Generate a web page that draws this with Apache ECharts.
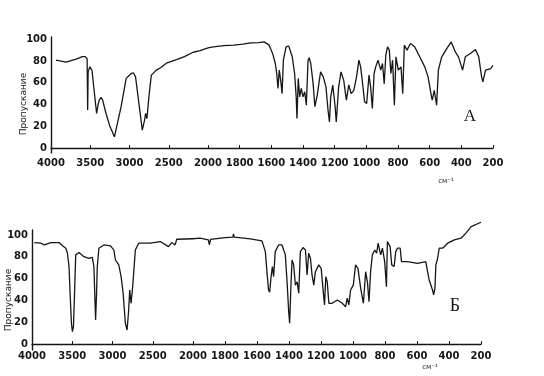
<!DOCTYPE html>
<html>
<head>
<meta charset="utf-8">
<script src="https://cdn.jsdelivr.net/npm/echarts@6/dist/echarts.min.js"></script>
<style>
  html, body { margin: 0; background: #ffffff; }
  #chart { width: 544px; height: 376px; }
</style>
</head>
<body>
<div id="chart"></div>
<script>
// спектр А: волновое число (см-1) и пропускание (%)
const waveA = [3936, 3808, 3680, 3600, 3564, 3540, 3533, 3527, 3504, 3478, 3419, 3400, 3385, 3363, 3342, 3300, 3250, 3192, 3171, 3107,
  3042, 2978, 2949, 2923, 2880, 2837, 2808, 2795, 2778, 2753, 2722, 2658, 2600, 2530, 2401, 2300, 2189, 2100, 2000, 1966,
  1900, 1838, 1780, 1731, 1680, 1646, 1614, 1592, 1575, 1566, 1558, 1550, 1541, 1532, 1524, 1507, 1490, 1468, 1453, 1443,
  1438, 1430, 1421, 1411, 1400, 1389, 1379, 1368, 1361, 1351, 1336, 1325, 1310, 1289, 1272, 1255, 1242, 1233, 1225, 1212,
  1197, 1190, 1175, 1160, 1143, 1126, 1111, 1096, 1079, 1062, 1047, 1036, 1026, 1011, 998, 983, 973, 962, 951, 941,
  926, 909, 898, 887, 877, 866, 855, 845, 834, 823, 813, 798, 781, 770, 760, 743, 721, 695, 663, 631,
  610, 592, 584, 571, 556, 545, 524, 492, 464, 438, 418, 392, 375, 343, 311, 290, 272, 264, 247, 215, 200];
const transA = [80.7, 79, 81.6, 84, 84, 82, 35, 70, 74.6, 71.5, 31.8, 40, 44, 46.5, 44, 32, 20, 10.4, 12, 38,
  64, 68.5, 69, 65.4, 41, 16.5, 25.7, 31.8, 27, 47, 67, 71.6, 74, 78, 81.3, 84, 88, 89.5, 92, 93,
  94, 94.5, 95.5, 96.6, 96.8, 97.5, 94.5, 86.9, 77.7, 68.5, 54.8, 71.6, 62.4, 50, 80.7, 93, 93.6, 83.8, 68.5, 47,
  27.2, 64, 47, 54.8, 47, 51.7, 39.4, 80.7, 83, 77.7, 59, 38, 48.6, 70, 65.4, 56.2, 35, 24, 47, 57.8,
  38, 24, 56, 70, 62.4, 44, 58, 50, 53, 65.4, 80.7, 74.6, 62.4, 42.5, 41, 67, 56.2, 36.4, 68.5, 74.6,
  80.7, 71.6, 77.7, 59, 85.3, 93, 90, 68.5, 80.7, 39.4, 83.8, 71.6, 74.6, 50, 94.5, 90, 96, 93, 83.8, 74.6,
  65.4, 50, 44, 53, 39.4, 71.6, 83.8, 91.4, 97.5, 88.3, 83.8, 71.6, 83.8, 86.9, 90.5, 83.8, 65.4, 60.8, 71.6, 73, 76];

// спектр Б
const waveB = [3971, 3889, 3848, 3765, 3663, 3621, 3580, 3560, 3540, 3527, 3510, 3498, 3485, 3469, 3457, 3416, 3354, 3293, 3251, 3231,
  3218, 3210, 3198, 3189, 3169, 3107, 3025, 2984, 2963, 2922, 2893, 2868, 2840, 2819, 2799, 2786, 2769, 2753, 2737, 2716,
  2675, 2531, 2407, 2305, 2263, 2222, 2202, 2000, 1956, 1904, 1898, 1890, 1800, 1750, 1747, 1742, 1642, 1569, 1548, 1538,
  1528, 1521, 1513, 1504, 1496, 1486, 1465, 1444, 1423, 1412, 1402, 1396, 1387, 1381, 1371, 1360, 1349, 1339, 1329, 1312,
  1297, 1287, 1277, 1266, 1256, 1245, 1235, 1214, 1199, 1186, 1178, 1170, 1161, 1151, 1130, 1098, 1067, 1046, 1036, 1026,
  1015, 998, 984, 969, 952, 935, 921, 910, 900, 890, 879, 864, 852, 843, 827, 816, 802, 791, 785, 768,
  758, 743, 733, 722, 705, 697, 659, 597, 545, 534, 524, 513, 503, 496, 488, 482, 471, 461, 440, 408,
  367, 325, 294, 262, 200];
const transB = [93, 92.4, 90.8, 93, 93, 90, 87.8, 83.2, 71, 46.5, 19, 11.3, 16, 52.6, 81.7, 83.8, 80, 78.6, 79.5, 71,
  40.4, 22, 46.5, 71, 87.8, 90.8, 90, 86.2, 77, 72.5, 61.8, 46.5, 19, 12.8, 31.2, 49.5, 37.3, 49.5, 64.8, 86.2,
  92.4, 92.4, 93.9, 89.3, 93, 90.8, 96, 96.5, 97, 95.4, 91, 96, 97.5, 98, 101, 98, 96.3, 94.5, 84.7, 66.3,
  49.5, 47.4, 60.3, 71, 61.8, 84.7, 90.8, 90.8, 81.7, 57, 29.6, 19, 57, 77, 72.5, 54, 57, 46.5, 84.7, 88.4,
  86.2, 63.3, 83.2, 78.6, 63.3, 54, 66.3, 72.5, 69.4, 48, 35.8, 61.8, 57, 37.3, 37.3, 40.4, 37.3, 34.2, 42, 35.8,
  49.5, 54, 72.5, 69.4, 51, 37.3, 66.3, 57, 38.8, 66.3, 81.7, 86.2, 83.2, 92.4, 81.7, 87.8, 75.5, 52.6, 93.9, 89.3,
  72.5, 71, 84.7, 87.8, 87.8, 75.5, 75.5, 74, 75.5, 66.3, 58.7, 57, 49.5, 45, 51, 72.5, 78.6, 87.8, 87.8, 92.4,
  95.4, 97, 101.6, 107.6, 111.6];

const yTicks = [0, 20, 40, 60, 80, 100];
const xTicksHigh = [4000, 3500, 3000, 2500, 2000];
const xTicksLow = [1800, 1600, 1400, 1200, 1000, 800, 600, 400, 200];

const ink = '#161616';
const font = 'DejaVu Sans';

function part(wave, trans, keep) {
  const out = [];
  wave.forEach((w, i) => { if (keep(w)) out.push([w, trans[i]]); });
  return out;
}

// шкала разбита на две части: 4000-2000 и 2000-200 (масштаб x2)
const grids = [
  { left: 51, top: 37, width: 157, height: 116 },
  { left: 208, top: 37, width: 285, height: 116 },
  { left: 32, top: 230, width: 161, height: 120 },
  { left: 193, top: 230, width: 288, height: 120 }
];
const yRange = [[-4.5, 102], [-4.5, 102], [-5.5, 104.5], [-5.5, 104.5]];
const xLabelGap = [5, 5, 1, 1];

function xAxis(i) {
  const high = i % 2 === 0;
  const ticks = high ? xTicksHigh : xTicksLow;
  return {
    gridIndex: i, type: 'value', inverse: true,
    min: high ? 2000 : 200, max: high ? 4000 : 2000,
    axisLine: { lineStyle: { color: ink, width: 1.4 } },
    axisTick: { inside: true, length: 3, customValues: ticks, lineStyle: { color: ink } },
    axisLabel: {
      customValues: ticks, color: ink, fontSize: 10, fontWeight: 'bold', fontFamily: font,
      margin: xLabelGap[i], formatter: v => String(v)
    },
    splitLine: { show: false }
  };
}

function yAxis(i) {
  const show = i % 2 === 0;
  return {
    gridIndex: i, type: 'value', show: show,
    min: yRange[i][0], max: yRange[i][1],
    axisLine: { show: true, lineStyle: { color: ink, width: 1.4 } },
    axisTick: { show: false },
    axisLabel: { customValues: yTicks, color: ink, fontSize: 10, fontWeight: 'bold', fontFamily: font, margin: 4 },
    splitLine: { show: false }
  };
}

function line(i, data) {
  return {
    type: 'line', xAxisIndex: i, yAxisIndex: i, data: data,
    showSymbol: false, clip: false, animation: false,
    lineStyle: { color: ink, width: 1.3 }
  };
}

function label(text, x, y, size, extra) {
  return Object.assign({
    type: 'text', x: x, y: y,
    style: { text: text, fill: ink, font: size, align: 'center', verticalAlign: 'middle' }
  }, extra || {});
}

const chart = echarts.init(document.getElementById('chart'));
chart.setOption({
  backgroundColor: '#ffffff',
  animation: false,
  grid: grids,
  xAxis: [0, 1, 2, 3].map(xAxis),
  yAxis: [0, 1, 2, 3].map(yAxis),
  series: [
    line(0, part(waveA, transA, w => w >= 2000)),
    line(1, part(waveA, transA, w => w <= 2000)),
    line(2, part(waveB, transB, w => w >= 2000)),
    line(3, part(waveB, transB, w => w <= 2000))
  ],
  graphic: [
    label('Пропускание', 24, 104, '9px "DejaVu Sans"', { rotation: Math.PI / 2 }),
    label('Пропускание', 9, 300, '9px "DejaVu Sans"', { rotation: Math.PI / 2 }),
    label('А', 470, 117, '17px "Liberation Serif"'),
    label('Б', 455, 306, '18px "Liberation Serif"'),
    label('см⁻¹', 446, 181, '7px "DejaVu Sans"'),
    label('см⁻¹', 430, 367, '7px "DejaVu Sans"')
  ]
});
window.onresize = function () {
  chart.resize();
};
</script>
</body>
</html>
